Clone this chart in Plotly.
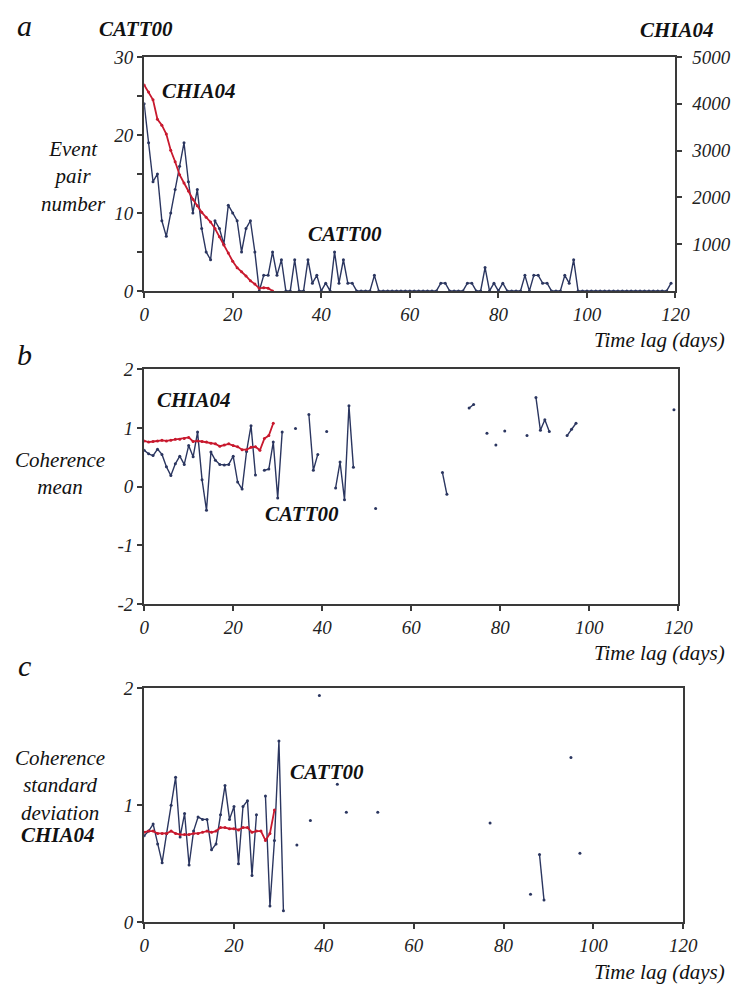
import plotly.graph_objects as go

W, H = 744, 995
def px(x): return x / W
def py(y): return 1 - y / H

N = None
# ---------------- data ----------------
days = list(range(0, 120))

# Panel a: event pair number
catt_pairs = [24, 19, 14, 15, 9, 7, 10, 13, 16, 19,
              14, 10, 13, 8, 5, 4, 9, 8, 6, 11,
              10, 9, 5, 8, 9, 5, 0, 2, 2, 5,
              2, 4, 0, 0, 4, 0, 0, 4, 1, 2,
              0, 1, 0, 5, 1, 4, 1, 1, 0, 0,
              0, 0, 2, 0, 0, 0, 0, 0, 0, 0,
              0, 0, 0, 0, 0, 0, 0, 1, 1, 0,
              0, 0, 0, 1, 1, 0, 0, 3, 0, 1,
              0, 1, 0, 0, 0, 0, 2, 0, 2, 2,
              1, 1, 0, 0, 0, 2, 1, 4, 0, 0,
              0, 0, 0, 0, 0, 0, 0, 0, 0, 0,
              0, 0, 0, 0, 0, 0, 0, 0, 0, 1]
chia_days = list(range(0, 30))
chia_pairs = [4400, 4250, 4086, 3668, 3543, 3354, 3006, 2762, 2483, 2308,
              2134, 1960, 1820, 1680, 1575, 1471, 1332, 1157, 983, 809,
              634, 496, 412, 320, 216, 146, 56, 70, 60, 0]

# Panel b: coherence mean
catt_mean = [0.62, 0.56, 0.53, 0.64, 0.55, 0.34, 0.19, 0.39, 0.52, 0.38,
             0.70, 0.51, 0.93, 0.12, -0.40, 0.59, 0.45, 0.38, 0.37, 0.38,
             0.52, 0.08, -0.04, 0.60, 1.04, 0.20, N, 0.28, 0.30, 0.76,
             -0.19, 0.93, N, N, 0.99, N, N, 1.23, 0.28, 0.55,
             N, 0.94, N, -0.02, 0.42, -0.22, 1.38, 0.33, N, N,
             N, N, -0.37, N, N, N, N, N, N, N,
             N, N, N, N, N, N, N, 0.24, -0.13, N,
             N, N, N, 1.34, 1.40, N, N, 0.91, N, 0.71,
             N, 0.95, N, N, N, N, 0.87, N, 1.52, 0.96,
             1.14, 0.94, N, N, N, 0.87, 0.98, 1.08, N, N,
             N, N, N, N, N, N, N, N, N, N,
             N, N, N, N, N, N, N, N, N, 1.31]
chia_mean = [0.78, 0.76, 0.77, 0.78, 0.79, 0.78, 0.79, 0.81, 0.81, 0.82,
             0.84, 0.77, 0.78, 0.77, 0.76, 0.74, 0.73, 0.69, 0.71, 0.73,
             0.70, 0.68, 0.63, 0.63, 0.67, 0.68, 0.62, 0.82, 0.87, 1.08]

# Panel c: coherence standard deviation
catt_std = [0.74, 0.78, 0.84, 0.67, 0.51, 0.76, 1.00, 1.24, 0.73, 0.93,
            0.49, 0.78, 0.90, 0.88, 0.88, 0.62, 0.67, 0.92, 1.17, 0.88,
            0.99, 0.50, 0.99, 1.04, 0.40, 0.92, N, 1.08, 0.14, 0.70,
            1.55, 0.10, N, N, 0.66, N, N, 0.87, N, 1.94,
            N, N, N, 1.18, N, 0.94, N, N, N, N,
            N, N, 0.94, N, N, N, N, N, N, N,
            N, N, N, N, N, N, N, N, N, N,
            N, N, N, N, N, N, N, 0.85, N, N,
            N, N, N, N, N, N, 0.24, N, 0.58, 0.19,
            N, N, N, N, N, 1.41, N, 0.59, N, N,
            N, N, N, N, N, N, N, N, N, N,
            N, N, N, N, N, N, N, N, N, N]
chia_std = [0.77, 0.78, 0.78, 0.76, 0.76, 0.76, 0.78, 0.76, 0.75, 0.75,
            0.75, 0.76, 0.76, 0.77, 0.78, 0.77, 0.78, 0.81, 0.81, 0.80,
            0.80, 0.79, 0.81, 0.81, 0.77, 0.78, 0.78, 0.70, 0.76, 0.96]

x_ticks = [0, 20, 40, 60, 80, 100, 120]
x_labels = ["0", "20", "40", "60", "80", "100", "120"]
ya_ticks = [0, 5, 10, 15, 20, 25, 30]
ya_labels = ["0", "", "10", "", "20", "", "30"]
ya2_ticks = [1000, 2000, 3000, 4000, 5000]
ya2_labels = ["1000", "2000", "3000", "4000", "5000"]
yb_ticks = [-2, -1, 0, 1, 2]
yb_labels = ["-2", "-1", "0", "1", "2"]
yc_ticks = [0, 1, 2]
yc_labels = ["0", "1", "2"]

# ---------------- styling ----------------
BLUE = "#2b3660"
RED = "#c8192e"
AX = "#3a3a3a"
FONT = "Liberation Serif"
tickfont = dict(family=FONT, size=19, color="#222")

def it(labels):
    return [f"<i>{t}</i>" if t else "" for t in labels]

fig = go.Figure()

def add_pair(xa, ya, cx, cy, rx, ry, rya=None):
    fig.add_trace(go.Scatter(x=cx, y=cy, xaxis=xa, yaxis=ya, mode="lines+markers",
                             line=dict(color=BLUE, width=1.4),
                             marker=dict(color=BLUE, size=3), connectgaps=False))
    fig.add_trace(go.Scatter(x=rx, y=ry, xaxis=xa, yaxis=rya or ya, mode="lines+markers",
                             line=dict(color=RED, width=1.8),
                             marker=dict(color=RED, size=3), connectgaps=False))

add_pair("x", "y", days, catt_pairs, chia_days, chia_pairs, rya="y2")
add_pair("x2", "y3", days, catt_mean, chia_days, chia_mean)
add_pair("x3", "y4", days, catt_std, chia_days, chia_std)

def xax(dom, anchor):
    return dict(domain=dom, anchor=anchor, range=[0, 120], tickvals=x_ticks,
                ticktext=it(x_labels),
                ticks="outside", ticklen=5, tickwidth=1.5, tickcolor=AX,
                showline=True, linecolor=AX, linewidth=2, mirror=True,
                showgrid=False, zeroline=False, tickfont=tickfont)

def yax(dom, anchor, rng, tv, tt, mirror=True):
    return dict(domain=dom, anchor=anchor, range=rng, tickvals=tv, ticktext=it(tt),
                ticks="outside", ticklen=5, tickwidth=1.5, tickcolor=AX,
                showline=True, linecolor=AX, linewidth=2, mirror=mirror,
                showgrid=False, zeroline=False, tickfont=tickfont)

fig.update_layout(
    width=W, height=H, margin=dict(l=0, r=0, t=0, b=0),
    paper_bgcolor="white", plot_bgcolor="white", showlegend=False,
    xaxis=xax([px(143), px(689)], "y"),
    yaxis=yax([py(287), py(48)], "x", [0, 30], ya_ticks, ya_labels, mirror=False),
    yaxis2=dict(overlaying="y", side="right", anchor="x", range=[0, 5000],
                tickvals=ya2_ticks, ticktext=it(ya2_labels), ticks="outside", ticklen=5,
                tickwidth=1.5, tickcolor=AX, showline=True, linecolor=AX, linewidth=2,
                showgrid=False, zeroline=False, tickfont=tickfont, ticklabelstandoff=6),
    xaxis2=xax([px(143), px(692)], "y3"),
    yaxis3=yax([py(607), py(367)], "x2", [-2, 2], yb_ticks, yb_labels),
    xaxis3=xax([px(143), px(697)], "y4"),
    yaxis4=yax([py(932), py(693)], "x3", [0, 2], yc_ticks, yc_labels),
)

def ann(text, x, y, size=21, bold=False, xanchor="center", align="center"):
    t = f"<i>{text}</i>"
    if bold:
        t = f"<b>{t}</b>"
    fig.add_annotation(text=t, x=px(x), y=py(y), xref="paper", yref="paper",
                       showarrow=False, xanchor=xanchor, yanchor="middle", align=align,
                       font=dict(family=FONT, size=size, color="#111"))

# panel letters
ann("a", 20, 16, size=30)
ann("b", 20, 352, size=30)
ann("c", 20, 670, size=30)

# top labels
ann("CATT00", 135, 19, bold=True)
ann("CHIA04", 691, 20, bold=True)

# panel a
ann("CHIA04", 199, 83, bold=True)
ann("CATT00", 349, 229, bold=True)
ann("Event<br>pair<br>number", 70, 170, size=21)
ann("Time lag (days)", 742, 337, xanchor="right")

# panel b
ann("CHIA04", 194, 398, bold=True)
ann("CATT00", 305, 515, bold=True)
ann("Coherence<br>mean", 57, 474, size=21)
ann("Time lag (days)", 742, 657, xanchor="right")

# panel c
ann("CATT00", 331, 778, bold=True)
ann("CHIA04", 54, 843, bold=True)
ann("Coherence<br>standard<br>deviation", 57, 792, size=21)
ann("Time lag (days)", 742, 983, xanchor="right")

fig.write_html("out.html")
